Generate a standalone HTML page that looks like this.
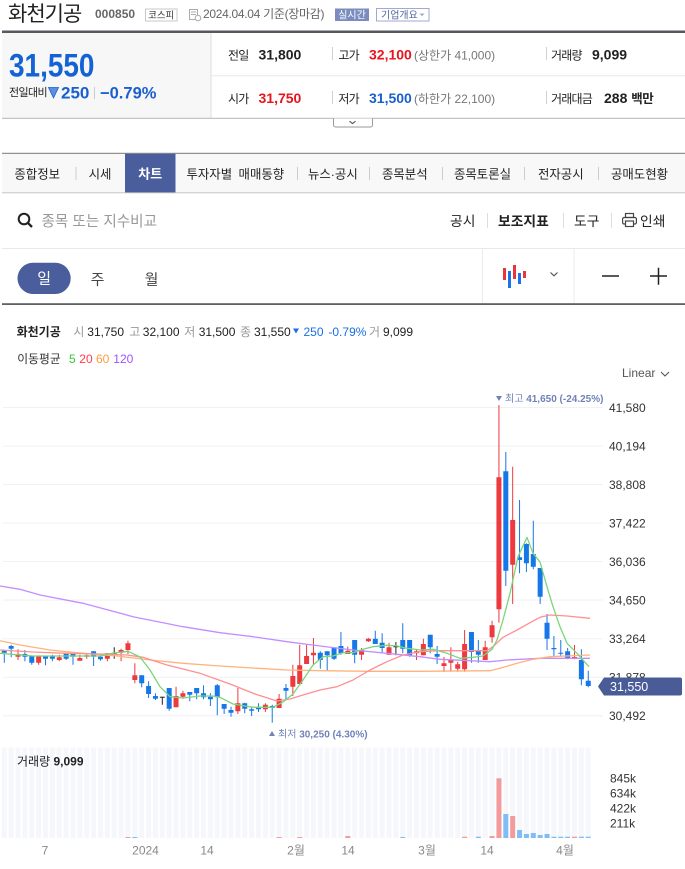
<!DOCTYPE html>
<html><head><meta charset="utf-8">
<style>
html,body{margin:0;padding:0;background:#fff;}
body{width:685px;height:869px;overflow:hidden;position:relative;}
svg{position:absolute;left:0;top:0;font-family:"Liberation Sans","Noto Sans CJK KR",sans-serif;}
</style></head>
<body>
<svg width="685" height="869" viewBox="0 0 685 869" xmlns="http://www.w3.org/2000/svg">
<defs>
<pattern id="vp" x="1.8" y="0" width="6.87" height="869" patternUnits="userSpaceOnUse"><rect width="5" height="869" fill="#f5f7fb"/></pattern>
</defs>

<!-- ===== HEADER ===== -->
<text x="8" y="20.9" font-size="21" letter-spacing="-1" fill="#222">화천기공</text>
<text x="95" y="18" font-size="12" font-weight="bold" fill="#666">000850</text>
<rect x="145.5" y="9" width="31.5" height="12" fill="#fff" stroke="#c8c8c8"/>
<text x="161.2" y="18.6" font-size="9.5" fill="#333" text-anchor="middle">코스피</text>
<g fill="none" stroke="#aaa" stroke-width="1"><rect x="189.5" y="9.5" width="8" height="10"/><path d="M191 12h5M191 14.5h5"/><circle cx="198" cy="18" r="2.8" fill="#fff"/></g>
<text x="203" y="18" font-size="12" fill="#666" letter-spacing="-0.3">2024.04.04 기준(장마감)</text>
<rect x="335" y="8.5" width="34" height="12.5" fill="#7b8dbf"/>
<text x="352" y="18.4" font-size="10" fill="#fff" text-anchor="middle">실시간</text>
<rect x="376.5" y="8.5" width="52.5" height="12.5" fill="#fff" stroke="#9eabd1"/>
<text x="381" y="18.4" font-size="10" fill="#56679f">기업개요</text>
<path d="M419.5 13.5h5l-2.5 2.8z" fill="#9eabd1"/>

<rect x="2" y="30.5" width="683" height="2.5" fill="#55595f"/>
<rect x="2" y="33" width="208.5" height="85" fill="#f7f7f7"/>
<rect x="210.5" y="33" width="1" height="85" fill="#dcdcdc"/>
<rect x="211" y="75.3" width="474" height="1" fill="#e6e6e6"/>
<rect x="2" y="117.8" width="683" height="1" fill="#b5b5b5"/>
<path d="M333.5 118.5v6.5a2 2 0 0 0 2 2h35a2 2 0 0 0 2-2v-6.5" fill="#fff" stroke="#999"/>
<path d="M349.5 121.2l3 2.4l3-2.4" fill="none" stroke="#555" stroke-width="1.1"/>

<text transform="translate(9,76.7) scale(0.86,1)" font-size="32.5" font-weight="bold" fill="#1362d6">31,550</text>
<text x="9" y="96" font-size="11" fill="#222" letter-spacing="-0.6">전일대비</text>
<path d="M48.5 87.5h10l-5 10.5z" fill="#5b8fe0" stroke="#1a5fd0" stroke-width="0.8"/>
<text x="61" y="98.3" font-size="17" font-weight="bold" fill="#1a5fd0">250</text>
<rect x="94" y="87" width="1" height="12" fill="#ccc"/>
<text x="100" y="98.3" font-size="16.5" font-weight="bold" fill="#1a5fd0">−0.79%</text>

<g font-size="12" fill="#222" letter-spacing="-0.8">
<text x="228" y="59.3">전일</text><text x="338.4" y="59.3">고가</text><text x="551" y="59.3">거래량</text>
<text x="228" y="103">시가</text><text x="338.4" y="103">저가</text><text x="551" y="103">거래대금</text>
</g>
<g font-size="14" font-weight="bold">
<text x="258.5" y="59.3" fill="#222">31,800</text>
<text x="369" y="59.3" fill="#e8141c">32,100</text>
<text x="592" y="59.3" fill="#222">9,099</text>
<text x="258.5" y="103" fill="#e8141c">31,750</text>
<text x="369" y="103" fill="#1a5fd0">31,500</text>
<text x="604" y="103" fill="#222">288 <tspan font-size="12.5" letter-spacing="-0.5">백만</tspan></text>
</g>
<g font-size="12" fill="#777">
<text x="414" y="59.3">(상한가 41,000)</text>
<text x="414" y="103">(하한가 22,100)</text>
</g>
<g fill="#d0d0d0"><rect x="332" y="47" width="1" height="13"/><rect x="546" y="47" width="1" height="13"/><rect x="332" y="91" width="1" height="13"/><rect x="546" y="91" width="1" height="13"/></g>

<!-- ===== TABS ===== -->
<rect x="2" y="153.5" width="683" height="39" fill="#f8f8f8"/>
<rect x="2" y="152.8" width="683" height="1" fill="#7a7a7a"/>
<rect x="2" y="192.3" width="683" height="1" fill="#c5c5c5"/>
<rect x="125" y="153.8" width="50.5" height="38.6" fill="#4a5e9e"/>
<text x="150.2" y="178.4" font-size="13" font-weight="bold" fill="#fff" text-anchor="middle">차트</text>
<g font-size="12.4" fill="#222">
<text x="14.4" y="178.3">종합정보</text>
<text x="88.6" y="178.3">시세</text>
<text x="186.5" y="178.3" word-spacing="3">투자자별 매매동향</text>
<text x="308" y="178.3">뉴스·공시</text>
<text x="382" y="178.3">종목분석</text>
<text x="454" y="178.3">종목토론실</text>
<text x="538" y="178.3">전자공시</text>
<text x="611" y="178.3">공매도현황</text>
</g>
<g fill="#cccccc"><rect x="75.5" y="167" width="1" height="13"/><rect x="297" y="167" width="1" height="13"/><rect x="369" y="167" width="1" height="13"/><rect x="442" y="167" width="1" height="13"/><rect x="524" y="167" width="1" height="13"/><rect x="598" y="167" width="1" height="13"/></g>

<!-- ===== SEARCH ROW ===== -->
<circle cx="24" cy="219" r="5.3" fill="none" stroke="#222" stroke-width="2"/>
<path d="M27.8 222.8l4.2 4.2" stroke="#222" stroke-width="2.3"/>
<text x="41.5" y="226" font-size="14.6" fill="#999">종목 또는 지수비교</text>
<g font-size="13.8" fill="#222">
<text x="450" y="226">공시</text>
<text x="498" y="226" font-weight="bold">보조지표</text>
<text x="574" y="226">도구</text>
<text x="640" y="226">인쇄</text>
</g>
<g fill="#dddddd"><rect x="487" y="213" width="1" height="15"/><rect x="563" y="213" width="1" height="15"/><rect x="611" y="213" width="1" height="15"/></g>
<g fill="none" stroke="#444" stroke-width="1.2"><rect x="625.5" y="213.5" width="8" height="4"/><rect x="622.6" y="217.5" width="13.8" height="6.5" rx="1.5"/><rect x="625.5" y="221" width="8" height="5.5" fill="#fff"/></g>
<rect x="2" y="248" width="683" height="1" fill="#e8e8e8"/>

<!-- ===== PERIOD ROW ===== -->
<rect x="17.5" y="262.7" width="53.2" height="31.3" rx="15.6" fill="#4a5e9e"/>
<text x="44.1" y="283.6" font-size="15" fill="#fff" text-anchor="middle">일</text>
<text x="97.5" y="284.4" font-size="15" fill="#444" text-anchor="middle">주</text>
<text x="151.5" y="284.4" font-size="15" fill="#444" text-anchor="middle">월</text>
<g fill="#ebebeb"><rect x="482" y="249" width="1" height="54"/><rect x="573.5" y="249" width="1" height="54"/></g>
<g><rect x="503" y="268" width="3" height="12" fill="#e8363b"/><rect x="508" y="271" width="3" height="17" fill="#1a73e8"/><rect x="513" y="265" width="3" height="14" fill="#e8363b"/><rect x="518" y="273" width="3" height="11" fill="#1a73e8"/><rect x="523" y="271" width="3" height="7" fill="#e8363b"/></g>
<path d="M550.5 272.5l3.5 3.3l3.5-3.3" fill="none" stroke="#555" stroke-width="1.2"/>
<path d="M602 276h17M650 276h17M658.5 267.7v17" stroke="#222" stroke-width="1.5"/>
<rect x="2" y="303.2" width="683" height="1.8" fill="#5d6167"/>

<!-- ===== INFO LINE ===== -->
<text x="16.6" y="336" font-size="12" font-weight="bold" fill="#222">화천기공</text>
<g font-size="12">
<text x="73.4" y="336" fill="#999">시</text><text x="87.3" y="336" fill="#222">31,750</text>
<text x="129.3" y="336" fill="#999">고</text><text x="142.8" y="336" fill="#222">32,100</text>
<text x="184.3" y="336" fill="#999">저</text><text x="198.7" y="336" fill="#222">31,500</text>
<text x="240" y="336" fill="#999">종</text><text x="254" y="336" fill="#222">31,550</text>
<text x="303.5" y="336" fill="#1a6fe0">250</text>
<text x="328.4" y="336" fill="#1a6fe0">-0.79%</text>
<text x="369" y="336" fill="#999">거</text><text x="383" y="336" fill="#222">9,099</text>
</g>
<path d="M293 328.5h6l-3 5z" fill="#1a6fe0"/>
<text x="17.3" y="363" font-size="11.8" fill="#333">이동평균</text>
<g font-size="12">
<text x="69" y="363" fill="#33c833">5</text>
<text x="79.3" y="363" fill="#ff3a4a">20</text>
<text x="96" y="363" fill="#ff9a3c">60</text>
<text x="113.3" y="363" fill="#9a55ff">120</text>
</g>
<text x="622" y="377" font-size="12" fill="#555">Linear</text>
<path d="M661 372l4 4l4-4" fill="none" stroke="#555" stroke-width="1.1"/>

<!-- ===== PRICE CHART ===== -->
<g fill="#eff1f4">
<rect x="3" y="407" width="600" height="1"/><rect x="3" y="445.5" width="600" height="1"/><rect x="3" y="484" width="600" height="1"/><rect x="3" y="522.5" width="600" height="1"/><rect x="3" y="561" width="600" height="1"/><rect x="3" y="599.6" width="600" height="1"/><rect x="3" y="638.2" width="600" height="1"/><rect x="3" y="676.8" width="600" height="1"/><rect x="3" y="715.3" width="600" height="1"/>
</g>
<g font-size="12" fill="#333">
<text x="609" y="411.8">41,580</text>
<text x="609" y="450.3">40,194</text>
<text x="609" y="488.8">38,808</text>
<text x="609" y="527.3">37,422</text>
<text x="609" y="565.8">36,036</text>
<text x="609" y="604.4">34,650</text>
<text x="609" y="643">33,264</text>
<text x="609" y="681.6">31,878</text>
<text x="609" y="720.1">30,492</text>
</g>

<!-- candles red -->
<path fill="none" stroke="#ec3a3e" stroke-width="1" d="M18.04 649.3V660M38.65 655.3V664.7M59.26 654.7V661.3M79.87 654.7V660.7M86.74 653.3V658.7M107.35 653.3V661.3M121.09 648.7V661.3M127.96 640.7V654M134.83 663.3V683.3M176.05 686.7V707.3M182.92 690.7V698.7M237.88 688V714M265.36 703.3V712M279.1 694V708M292.84 664.7V696M299.71 644.7V684M306.58 644.7V664M313.45 638V665.3M347.8 646.7V654M361.54 648V660M368.41 638V642M389.02 642.7V654.7M416.5 650V660M423.37 638.7V655.3M443.98 657V672M450.85 647.3V671.7M457.72 661.7V671.7M464.59 630V671.7M485.2 640.7V660M492.07 620.7V642.7M498.94 405V622.7M512.68 466.7V604M574.51 645V659.3"/>
<path fill="#ec3a3e" d="M15.54 654h5v2.7h-5zM36.15 656h5v6.7h-5zM56.76 657.3h5v2.7h-5zM77.37 658h5v2.7h-5zM84.24 655.3h5v1.4h-5zM104.85 653.3h5v5.4h-5zM118.59 650h5v2.7h-5zM125.46 643.3h5v6.7h-5zM132.33 675.3h5v4.7h-5zM173.55 696h5v11.3h-5zM180.42 693.3h5v3.4h-5zM235.38 703.3h5v8h-5zM262.86 704.7h5v4.6h-5zM276.6 698.7h5v9.3h-5zM290.34 676h5v10.7h-5zM297.21 665.3h5v18.7h-5zM304.08 656h5v8h-5zM310.95 652.7h5v2.6h-5zM345.3 650.7h5v3.3h-5zM359.04 650h5v4.7h-5zM365.91 638.7h5v2.6h-5zM386.52 647.3h5v7.4h-5zM414 651.3h5v2h-5zM420.87 644h5v11.3h-5zM441.48 663.3h5v2.7h-5zM448.35 660h5v2.7h-5zM455.22 664.3h5v4.4h-5zM462.09 644h5v25.3h-5zM482.7 647.3h5v12.7h-5zM489.57 625.3h5v12h-5zM496.44 477.3h5v132h-5zM510.18 520h5v44.7h-5zM572.01 657h5v1h-5z"/>
<!-- candles blue -->
<path fill="none" stroke="#1677e8" stroke-width="1" d="M4.3 650V662.7M11.17 644.7V657.3M24.91 650V661.3M31.78 656V664.7M45.52 656V665.3M52.39 654.7V661.3M66.13 653.3V660M73 654V664.7M93.61 651.3V666M100.48 654.7V660.7M141.7 675.3V687.3M148.57 681.3V698M155.44 693.3V700M169.18 688V710.7M189.79 692V701.3M196.66 688V699.3M203.53 685.3V699.3M210.4 693.3V706M217.27 684V715.3M224.14 704V714M231.01 706.7V716.7M244.75 702.7V713.3M251.62 706.7V716M258.49 703.3V712M272.23 704.7V722.7M285.97 684V699.3M320.32 651.3V668.7M327.19 651.3V670.7M334.06 647.3V660M340.93 632V654.7M354.67 640V663.3M375.28 630.7V644M382.15 633.3V653.3M402.76 623.3V653.3M409.63 640V656.7M430.24 634.7V653.3M437.11 646V664M471.46 632V662.7M478.33 640V662.7M505.81 452V586M519.55 500V573.3M526.42 543.3V572M533.29 520.7V569.3M540.16 568V604M547.03 614V650M553.9 636V656M560.77 640V656M567.64 648V659.3M581.38 649.3V685.3M588.25 670.7V687.3"/>
<path fill="#1677e8" d="M1.8 650h5v2.7h-5zM8.67 646h5v2.7h-5zM22.41 654h5v2.7h-5zM29.28 656h5v6.7h-5zM43.02 656h5v2.7h-5zM49.89 656h5v2.7h-5zM63.63 653.3h5v5.4h-5zM70.5 654h5v2.7h-5zM91.11 651.3h5v5.4h-5zM97.98 656.7h5v2.6h-5zM139.2 675.3h5v8h-5zM146.07 686h5v8h-5zM152.94 696h5v2.7h-5zM166.68 688h5v20.7h-5zM187.29 692h5v2.7h-5zM194.16 688h5v5.3h-5zM201.03 693.3h5v4h-5zM207.9 696.7h5v2.6h-5zM214.77 685.3h5v12h-5zM221.64 704h5v4.7h-5zM228.51 710h5v2.7h-5zM242.25 703.3h5v5.4h-5zM249.12 709.3h5v1.4h-5zM255.99 706.7h5v2.6h-5zM269.73 706h5v2h-5zM283.47 688h5v2.7h-5zM317.82 652.7h5v7.3h-5zM324.69 651.3h5v4h-5zM331.56 647.3h5v11.4h-5zM338.43 646h5v7.3h-5zM352.17 640h5v14.7h-5zM372.78 638.7h5v5.3h-5zM379.65 642.7h5v5.3h-5zM400.26 640h5v8.7h-5zM407.13 640h5v15.3h-5zM427.74 634.7h5v12.6h-5zM434.61 654h5v2.7h-5zM468.96 632h5v20h-5zM475.83 650h5v4.7h-5zM503.31 471.3h5v99.4h-5zM517.05 557.3h5v2.7h-5zM523.92 544h5v19.3h-5zM530.79 554h5v12.7h-5zM537.66 568h5v28.7h-5zM544.53 622.7h5v16h-5zM551.4 648h5v1.3h-5zM558.27 652.7h5v1h-5zM565.14 651.3h5v6.7h-5zM578.88 660h5v19.3h-5zM585.75 680.7h5v5.3h-5z"/>
<!-- doji -->
<path fill="none" stroke="#222" stroke-width="1" d="M114.22 647.3V658.7M162.31 696.7V704.7M395.89 642V655.3"/>
<path fill="#222" d="M111.72 652.8h5v1h-5zM159.81 696.8h5v1h-5zM393.39 646.2h5v1h-5z"/>

<!-- moving averages -->
<g fill="none" stroke-width="1.3" stroke-linejoin="round">
<polyline stroke="#c48dff" points="0,586 20,589.3 40,595 83,603.3 133,616.7 183,626.7 220,632.7 253,636.7 287,641.7 320,646 353,650 387,653.3 420,656.7 440,659.3 490,661.7 507,660 540,658.3 590,658.3"/>
<polyline stroke="#ffb37c" points="0,640.7 20,645 50,650 83,653.3 117,656 150,660 183,663.3 220,666 253,668 287,670 320,670.7 370,671.3 420,671.3 490,670.7 500,668.3 517,663.3 533,659.3 550,656.7 590,655"/>
<polyline stroke="#ff8f93" points="0,650 33,652 67,653.3 100,654 127,655 143,657.3 167,665 200,673.3 230,684 255,694 277,701 290,699 303,695 320,690 337,686.7 353,680 370,670 387,661.7 403,655 420,651.7 437,650.7 487,650.7 493,646.7 503,637.3 517,630 530,622.7 540,617.3 550,615 567,616 590,618.3"/>
<polyline stroke="#7ad67a" points="0,653.3 33,656 100,656 114,653 128,651.3 140,657 150,670 160,686.7 170,696.7 183,698 200,696 213,696 220,697.3 233,704 253,707.3 273,707.3 283,702 293,694 303,680 313,665 323,656.7 333,656 343,652.7 353,652.7 363,649.3 373,646.7 387,645.3 397,646 407,648.3 420,650 433,649.3 447,653.3 460,658.3 473,657.3 483,656 492,649.3 497,640 503,620 510,593.3 518,556.7 527,537.3 533,553.3 540,562 547,586.7 553,606.7 560,626.7 567,643.3 577,653.3 589,666.7"/>
</g>

<!-- annotations -->
<path d="M496 396h6l-3 5z" fill="#7083b9"/>
<text x="505" y="402" font-size="10" fill="#7083b9">최고 <tspan font-weight="bold">41,650 (-24.25%)</tspan></text>
<path d="M269 736h6l-3-5z" fill="#7083b9"/>
<text x="278" y="737.5" font-size="10" fill="#7083b9">최저 <tspan font-weight="bold">30,250 (4.30%)</tspan></text>

<!-- price tag -->
<path d="M598 686.5L604 677.5H680Q682 677.5 682 679.5V693.5Q682 695.5 680 695.5H604Z" fill="#4a5c98"/>
<text x="610" y="691" font-size="12.5" fill="#fff">31,550</text>

<!-- ===== VOLUME ===== -->
<rect x="0" y="747.5" width="591.5" height="90.5" fill="url(#vp)"/>
<g fill="#f29a9c">
<rect x="496.44" y="778.3" width="5" height="59.7"/>
<rect x="510.18" y="816" width="5" height="22"/>
<rect x="489.57" y="836" width="5" height="2"/>
<rect x="572.01" y="836.7" width="5" height="1.3"/>
<rect x="462.09" y="836.7" width="5" height="1.3"/>
<rect x="345.3" y="836" width="5" height="2"/>
<rect x="297.21" y="837" width="5" height="1"/>
<rect x="276.6" y="837" width="5" height="1"/>
<rect x="125.46" y="837" width="5" height="1"/>
</g>
<g fill="#80bcf5">
<rect x="503.31" y="814" width="5" height="24"/>
<rect x="517.05" y="830" width="5" height="8"/>
<rect x="523.92" y="834" width="5" height="4"/>
<rect x="530.79" y="833" width="5" height="5"/>
<rect x="537.66" y="835" width="5" height="3"/>
<rect x="544.53" y="834" width="5" height="4"/>
<rect x="551.4" y="836.7" width="5" height="1.3"/>
<rect x="558.27" y="836.7" width="5" height="1.3"/>
<rect x="565.14" y="836.7" width="5" height="1.3"/>
<rect x="578.88" y="836.7" width="5" height="1.3"/>
<rect x="585.75" y="836.7" width="5" height="1.3"/>
<rect x="475.83" y="836.7" width="5" height="1.3"/>
<rect x="400.26" y="837" width="5" height="1"/>
<rect x="132.33" y="837" width="5" height="1"/>
</g>
<text x="17" y="765.5" font-size="12" fill="#222">거래량 <tspan font-weight="bold">9,099</tspan></text>
<g font-size="12" fill="#333">
<text x="610" y="782.5">845k</text>
<text x="610" y="797.5">634k</text>
<text x="610" y="812.5">422k</text>
<text x="610" y="827.3">211k</text>
</g>
<g font-size="12" fill="#888" text-anchor="middle">
<text x="45" y="854.5">7</text>
<text x="145.5" y="854.5">2024</text>
<text x="207" y="854.5">14</text>
<text x="296" y="854.5">2월</text>
<text x="348" y="854.5">14</text>
<text x="427" y="854.5">3월</text>
<text x="487" y="854.5">14</text>
<text x="565" y="854.5">4월</text>
</g>
</svg>
</body></html>
